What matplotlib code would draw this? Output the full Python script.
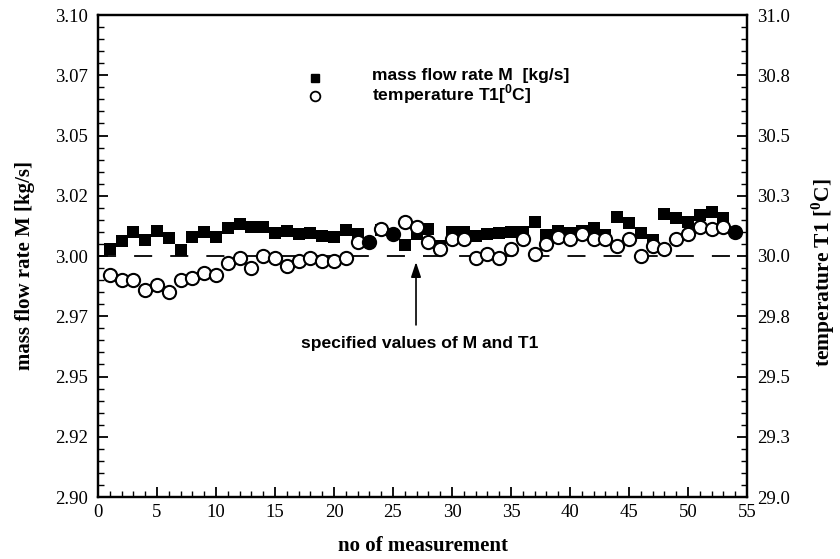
import matplotlib
matplotlib.use('Agg')
import matplotlib.pyplot as plt
from matplotlib.ticker import MultipleLocator, FixedLocator, FixedFormatter

# ---------------- data ----------------
n = list(range(1, 55))
M = [3.0029, 3.0063, 3.0101, 3.0068, 3.0104, 3.0075, 3.0025, 3.0079, 3.0101, 3.0079,
     3.0116, 3.0134, 3.0120, 3.0120, 3.0097, 3.0104, 3.0093, 3.0097, 3.0084, 3.0080,
     3.0108, 3.0090, 3.0063, 3.0108, 3.0087, 3.0046, 3.0090, 3.0111, 3.0041, 3.0101,
     3.0101, 3.0084, 3.0090, 3.0094, 3.0101, 3.0101, 3.0140, 3.0087, 3.0105, 3.0094,
     3.0104, 3.0118, 3.0087, 3.0163, 3.0136, 3.0094, 3.0066, 3.0173, 3.0159, 3.0142,
     3.0170, 3.0184, 3.0159, 3.0104]
T1 = [29.92, 29.90, 29.90, 29.86, 29.88, 29.85, 29.90, 29.91, 29.93, 29.92,
      29.97, 29.99, 29.95, 30.00, 29.99, 29.96, 29.98, 29.99, 29.98, 29.98,
      29.99, 30.06, 30.06, 30.11, 30.09, 30.14, 30.12, 30.06, 30.03, 30.07,
      30.07, 29.99, 30.01, 29.99, 30.03, 30.07, 30.01, 30.05, 30.08, 30.07,
      30.09, 30.07, 30.07, 30.04, 30.07, 30.00, 30.04, 30.03, 30.07, 30.09,
      30.12, 30.11, 30.12, 30.10]
overlap = [23, 25, 54]          # points where both markers coincide (drawn filled round)
M_spec = 3.00
T_spec = 30.0

x_ticks = [0, 5, 10, 15, 20, 25, 30, 35, 40, 45, 50, 55]
yl_ticks = [2.90, 2.925, 2.95, 2.975, 3.00, 3.025, 3.05, 3.075, 3.10]
yl_labels = ['2.90', '2.92', '2.95', '2.97', '3.00', '3.02', '3.05', '3.07', '3.10']
yr_ticks = [29.0, 29.25, 29.5, 29.75, 30.0, 30.25, 30.5, 30.75, 31.0]
yr_labels = ['29.0', '29.3', '29.5', '29.8', '30.0', '30.3', '30.5', '30.8', '31.0']

serif = 'Liberation Serif'
sans = 'Liberation Sans'

fig = plt.figure(figsize=(8.4, 5.59), dpi=100)
ax = fig.add_axes([98/840, 1-497/559, (747-98)/840, (497-15)/559])
ax2 = ax.twinx()

ax.set_xlim(0, 55)
ax.set_ylim(2.90, 3.10)
ax2.set_ylim(29.0, 31.0)

# dashed specified line
ax.plot([0, 55], [M_spec, M_spec], color='black', lw=1.3, dashes=(10, 10), zorder=1)

# squares (mass flow)
sq_x = [xi for xi in n if xi not in overlap]
sq_y = [m for xi, m in zip(n, M) if xi not in overlap]
ax.plot(sq_x, sq_y, 's', color='black', markersize=8.5, markeredgewidth=0, zorder=3)

# circles (temperature)
c_x = [xi for xi in n if xi not in overlap]
c_y = [t for xi, t in zip(n, T1) if xi not in overlap]
ax2.plot(c_x, c_y, 'o', markerfacecolor='white', markeredgecolor='black',
         markersize=9.5, markeredgewidth=1.5, zorder=3)
ov_x = [xi for xi in n if xi in overlap]
ov_y = [t for xi, t in zip(n, T1) if xi in overlap]
ax2.plot(ov_x, ov_y, 'o', markerfacecolor='black', markeredgecolor='black',
         markersize=9.5, markeredgewidth=1.5, zorder=3)

# ticks
ax.xaxis.set_major_locator(FixedLocator(x_ticks))
ax.xaxis.set_minor_locator(MultipleLocator(1))
ax.yaxis.set_major_locator(FixedLocator(yl_ticks))
ax.yaxis.set_major_formatter(FixedFormatter(yl_labels))
ax.yaxis.set_minor_locator(MultipleLocator(0.005))
ax2.yaxis.set_major_locator(FixedLocator(yr_ticks))
ax2.yaxis.set_major_formatter(FixedFormatter(yr_labels))
ax2.yaxis.set_minor_locator(MultipleLocator(0.05))

ax.tick_params(axis='both', which='major', direction='in', length=7.5, width=1.3)
ax.tick_params(axis='both', which='minor', direction='in', length=4.5, width=1.0)
ax.tick_params(axis='y', which='both', right=False)
ax.tick_params(axis='x', which='both', top=False, pad=5)
ax.tick_params(axis='y', pad=7)
ax2.tick_params(axis='y', which='major', direction='in', length=7.5, width=1.3, pad=7)
ax2.tick_params(axis='y', which='minor', direction='in', length=4.5, width=1.0)

for lab in ax.get_xticklabels() + ax.get_yticklabels() + ax2.get_yticklabels():
    lab.set_fontfamily(serif)
    lab.set_fontsize(13.5)

for a in (ax, ax2):
    for s in a.spines.values():
        s.set_linewidth(1.6)

# axis labels
ax.set_xlabel('no of measurement', fontfamily=serif, fontweight='bold', fontsize=15)
ax.xaxis.set_label_coords(0.5, -0.08)
ax.set_ylabel('mass flow rate M [kg/s]', fontfamily=serif, fontweight='bold', fontsize=15)
ax.yaxis.set_label_coords(-0.097, 0.48)
ax2.set_ylabel(r'temperature T1 [$^{\mathregular{0}}$C]', fontfamily=serif,
               fontweight='bold', fontsize=15.5, rotation=90)
ax2.yaxis.set_label_coords(1.096, 0.465)

# legend (manual)
ax.plot([0.334], [0.869], 's', color='black', markersize=6, transform=ax.transAxes, clip_on=False)
ax.plot([0.334], [0.832], 'o', markerfacecolor='white', markeredgecolor='black',
        markersize=7, markeredgewidth=1.3, transform=ax.transAxes, clip_on=False)
ax.text(0.4217, 0.874, 'mass flow rate M  [kg/s]', transform=ax.transAxes,
        fontfamily=sans, fontweight='bold', fontsize=12.6, va='center', ha='left')
ax.text(0.4217, 0.835, r'temperature T1[$^{\mathregular{0}}$C]', transform=ax.transAxes,
        fontfamily=sans, fontweight='bold', fontsize=12.6, va='center', ha='left')

# annotation
ax.annotate('', xy=(26.95, 2.9975), xytext=(26.95, 2.9714),
            arrowprops=dict(arrowstyle='-|>,head_length=0.9,head_width=0.3',
                            color='black', lw=1.2, shrinkA=0, shrinkB=0))
ax.text(27.3, 2.9639, 'specified values of M and T1', fontfamily=sans,
        fontweight='bold', fontsize=12.6, ha='center', va='center')

fig.savefig('out.png', dpi=100)
